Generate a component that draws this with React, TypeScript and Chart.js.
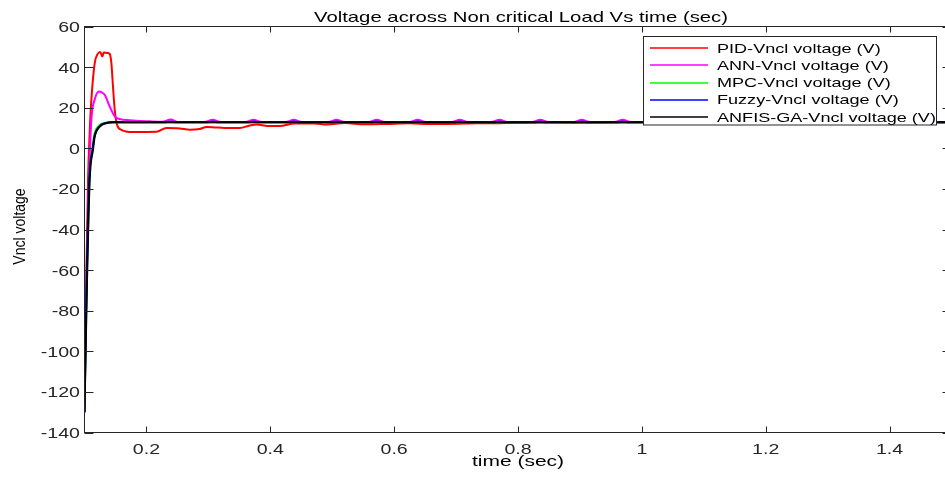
import React, { useEffect, useRef } from "react";
import { Chart, registerables } from "chart.js";

Chart.register(...registerables);

const TITLE = "Voltage across Non critical Load Vs time (sec)";
const X_LABEL = "time (sec)";
const Y_LABEL = "Vncl voltage";
const X_TICKS = [0.2, 0.4, 0.6, 0.8, 1, 1.2, 1.4];
const Y_TICKS = [-140, -120, -100, -80, -60, -40, -20, 0, 20, 40, 60];
const X_MIN = 0.1;
const X_MAX = 1.5;
const Y_MIN = -140;
const Y_MAX = 60;

const SERIES_NAMES = [
  "PID-Vncl voltage (V)",
  "ANN-Vncl voltage (V)",
  "MPC-Vncl voltage (V)",
  "Fuzzy-Vncl voltage (V)",
  "ANFIS-GA-Vncl voltage (V)",
];
const SERIES_COLORS = ["#ff0000", "#ff00ff", "#00ff00", "#0000ff", "#000000"];

const pidTime = [0.1, 0.1024, 0.1057, 0.1084, 0.1111, 0.1165, 0.1213, 0.1253, 0.1289, 0.131, 0.1375, 0.1407, 0.1434, 0.146, 0.1488, 0.1525, 0.1596, 0.1778, 0.2161, 0.2322, 0.2537, 0.2698, 0.286, 0.2973, 0.307, 0.3264, 0.3506, 0.3667, 0.378, 0.3958, 0.4152, 0.4394, 0.4717, 0.4911, 0.5202, 0.5525, 0.588, 0.625, 0.6573, 0.6848, 0.7332, 0.7703, 0.8349, 0.9, 1.0, 1.2, 1.5];
const pidVolt = [-130, -72, -15.5, 8, 24, 42, 46.5, 47.5, 45.2, 47.2, 47, 46.5, 42, 30.4, 19, 11.6, 9.1, 8, 8.1, 10, 9.8, 9.1, 9.5, 10.5, 10.4, 10, 10, 11.2, 11.7, 11, 11, 12.2, 12.2, 11.7, 12.5, 11.8, 12, 12.3, 12, 12, 12.3, 12.4, 12.7, 12.6, 12.8, 12.8, 12.8];

const annTime = [0.1, 0.1027, 0.1073, 0.1111, 0.1165, 0.1234, 0.1278, 0.1326, 0.1407, 0.1488, 0.1568, 0.173, 0.2053,
  0.226, 0.239, 0.252, 0.294, 0.307, 0.32, 0.36, 0.373, 0.386, 0.425, 0.438, 0.451, 0.494, 0.507, 0.52,
  0.559, 0.572, 0.585, 0.625, 0.638, 0.651, 0.693, 0.706, 0.719, 0.757, 0.77, 0.783, 0.823, 0.836, 0.849,
  0.89, 0.903, 0.916, 0.956, 0.969, 0.982, 1.022, 1.035, 1.048, 1.088, 1.101, 1.114, 1.155, 1.168, 1.181,
  1.221, 1.234, 1.247, 1.287, 1.3, 1.313, 1.353, 1.366, 1.379, 1.42, 1.433, 1.446, 1.5];
const annVolt = [-130, -75, -15.5, 14, 24, 28, 27.6, 26.4, 20.6, 15.7, 14.4, 13.8, 13.3,
  13.1, 14.2, 12.9, 12.9, 14.1, 12.9, 12.9, 14.1, 12.9, 12.9, 14.1, 12.9, 12.9, 14.1, 12.9,
  12.9, 14.1, 12.9, 12.9, 14.1, 12.9, 12.9, 14.1, 12.9, 12.9, 14.1, 12.9, 12.9, 14.1, 12.9,
  12.9, 14.1, 12.9, 12.9, 14.1, 12.9, 12.9, 14.1, 12.9, 12.9, 14.1, 12.9, 12.9, 14.1, 12.9,
  12.9, 14.1, 12.9, 12.9, 14.1, 12.9, 12.9, 14.1, 12.9, 12.9, 14.1, 12.9, 12.9];

const mpcTime = [0.1, 0.1036, 0.1078, 0.1128, 0.1158, 0.1238, 0.132, 0.142, 0.8, 1.5];
const mpcVolt = [-130, -66, -15, 0, 6.8, 11.3, 12.5, 12.8, 12.8, 12.8];

const fuzzyTime = [0.1, 0.1033, 0.1076, 0.113, 0.1162, 0.1242, 0.135, 0.145,
  0.229, 0.239, 0.249, 0.297, 0.307, 0.317, 0.363, 0.373, 0.383, 0.428, 0.438, 0.448, 0.497, 0.507, 0.517,
  0.562, 0.572, 0.582, 0.628, 0.638, 0.648, 0.696, 0.706, 0.716, 0.76, 0.77, 0.78, 0.826, 0.836, 0.846,
  0.893, 0.903, 0.913, 0.959, 0.969, 0.979, 1.025, 1.035, 1.045, 1.091, 1.101, 1.111, 1.158, 1.168, 1.178,
  1.224, 1.234, 1.244, 1.29, 1.3, 1.31, 1.356, 1.366, 1.376, 1.423, 1.433, 1.443, 1.5];
const fuzzyVolt = [-130, -66, -15, -0.5, 6, 10.8, 12.5, 12.8,
  12.8, 13.2, 12.8, 12.8, 13.2, 12.8, 12.8, 13.2, 12.8, 12.8, 13.2, 12.8, 12.8, 13.2, 12.8,
  12.8, 13.2, 12.8, 12.8, 13.2, 12.8, 12.8, 13.2, 12.8, 12.8, 13.2, 12.8, 12.8, 13.2, 12.8,
  12.8, 13.2, 12.8, 12.8, 13.2, 12.8, 12.8, 13.2, 12.8, 12.8, 13.2, 12.8, 12.8, 13.2, 12.8,
  12.8, 13.2, 12.8, 12.8, 13.2, 12.8, 12.8, 13.2, 12.8, 12.8, 13.2, 12.8, 12.8];

const anfisTime = [0.1, 0.104, 0.1084, 0.1137, 0.1165, 0.1246, 0.1359, 0.1457, 0.8, 1.5];
const anfisVolt = [-130, -66, -15.5, -0.7, 5.8, 10.7, 12.5, 12.8, 12.8, 12.8];

const SERIES_TIMES = [pidTime, annTime, mpcTime, fuzzyTime, anfisTime];
const SERIES_VOLTS = [pidVolt, annVolt, mpcVolt, fuzzyVolt, anfisVolt];

const CANVAS_W = 960;
const CANVAS_H = 479;
const FONT = "'Liberation Sans', Arial, Helvetica, sans-serif";
const STRETCH = 1.4;

function stretchText(ctx: CanvasRenderingContext2D, text: string, x: number, y: number, align: CanvasTextAlign, sx: number) {
  ctx.save();
  ctx.translate(x, y);
  ctx.scale(sx, 1);
  ctx.textAlign = align;
  ctx.textBaseline = "alphabetic";
  ctx.fillText(text, 0, 0);
  ctx.restore();
}

function fmt(v: number) {
  return String(Math.round(v * 10) / 10);
}

const framePlugin = {
  id: "matlabFrame",
  afterDatasetsDraw(chart: any) {
    const { ctx, chartArea: a, scales } = chart;
    const xs = scales.x;
    const ys = scales.y;
    ctx.save();
    ctx.strokeStyle = "#262626";
    ctx.lineWidth = 1;
    ctx.strokeRect(a.left, a.top, a.right - a.left, a.bottom - a.top);
    ctx.beginPath();
    X_TICKS.forEach((v) => {
      const px = Math.round(xs.getPixelForValue(v)) + 0.5;
      ctx.moveTo(px, a.bottom);
      ctx.lineTo(px, a.bottom - 6);
      ctx.moveTo(px, a.top);
      ctx.lineTo(px, a.top + 6);
    });
    Y_TICKS.forEach((v) => {
      const py = Math.round(ys.getPixelForValue(v)) + 0.5;
      ctx.moveTo(a.left, py);
      ctx.lineTo(a.left + 9, py);
      ctx.moveTo(a.right, py);
      ctx.lineTo(a.right - 9, py);
    });
    ctx.stroke();

    ctx.fillStyle = "#262626";
    ctx.font = `14px ${FONT}`;
    X_TICKS.forEach((v) => {
      stretchText(ctx, fmt(v), xs.getPixelForValue(v), a.bottom + 21, "center", STRETCH);
    });
    Y_TICKS.forEach((v) => {
      stretchText(ctx, fmt(v), a.left - 4.5, ys.getPixelForValue(v) + 5.5, "right", STRETCH);
    });

    ctx.fillStyle = "#000";
    const cx = (a.left + a.right) / 2;
    stretchText(ctx, X_LABEL, cx, a.bottom + 33.5, "center", 1.5);
    ctx.save();
    ctx.translate(25, (a.top + a.bottom) / 2 - 3);
    ctx.rotate(-Math.PI / 2);
    ctx.scale(1, 1.12);
    ctx.textAlign = "center";
    ctx.textBaseline = "alphabetic";
    ctx.font = `14px ${FONT}`;
    ctx.fillText(Y_LABEL, 0, 0);
    ctx.restore();

    ctx.font = `14.5px ${FONT}`;
    stretchText(ctx, TITLE, cx + 3, a.top - 4.8, "center", STRETCH);

    const lx = 643.5, ly = 36.5, lw = 293, lh = 88.5;
    ctx.fillStyle = "#ffffff";
    ctx.fillRect(lx, ly, lw, lh);
    ctx.strokeStyle = "#262626";
    ctx.lineWidth = 1;
    ctx.strokeRect(lx, ly, lw, lh);
    ctx.font = `13px ${FONT}`;
    ctx.lineWidth = 1.5;
    SERIES_NAMES.forEach((name, i) => {
      const rowY = 48.3 + i * 17.1;
      ctx.strokeStyle = SERIES_COLORS[i];
      ctx.beginPath();
      ctx.moveTo(650, Math.round(rowY));
      ctx.lineTo(708, Math.round(rowY));
      ctx.stroke();
      ctx.fillStyle = "#000";
      stretchText(ctx, name, 717, rowY + 4.8, "left", 1.39);
    });
    ctx.restore();
  },
};

export default function App() {
  const canvasRef = useRef<HTMLCanvasElement | null>(null);

  useEffect(() => {
    const canvas = canvasRef.current;
    if (!canvas) return;
    const order = [5, 4, 3, 2, 1];
    const datasets = SERIES_NAMES.map((name, i) => ({
      label: name,
      data: SERIES_TIMES[i].map((t, k) => ({ x: t, y: SERIES_VOLTS[i][k] })),
      borderColor: SERIES_COLORS[i],
      backgroundColor: SERIES_COLORS[i],
      borderWidth: 2,
      pointRadius: 0,
      fill: false,
      cubicInterpolationMode: "monotone" as const,
      order: order[i],
    }));
    const chart = new Chart(canvas, {
      type: "line",
      data: { datasets },
      options: {
        responsive: false,
        animation: false,
        events: [],
        layout: { padding: { top: 26.5, right: CANVAS_W - 951.5, bottom: 0, left: 0 } },
        plugins: {
          legend: { display: false },
          title: { display: false },
          tooltip: { enabled: false },
        },
        scales: {
          x: {
            type: "linear",
            min: X_MIN,
            max: X_MAX,
            ticks: { display: false },
            grid: { display: false },
            border: { display: false },
            afterFit: (s: any) => {
              s.height = CANVAS_H - 432.5;
            },
          },
          y: {
            type: "linear",
            min: Y_MIN,
            max: Y_MAX,
            ticks: { display: false },
            grid: { display: false },
            border: { display: false },
            afterFit: (s: any) => {
              s.width = 84.5;
            },
          },
        },
      },
      plugins: [framePlugin],
    });
    return () => chart.destroy();
  }, []);

  return (
    <div style={{ position: "fixed", left: 0, top: 0, width: 945, height: 479, overflow: "hidden", background: "#fff" }}>
      <canvas ref={canvasRef} width={CANVAS_W} height={CANVAS_H} style={{ width: CANVAS_W, height: CANVAS_H, display: "block" }} />
    </div>
  );
}
